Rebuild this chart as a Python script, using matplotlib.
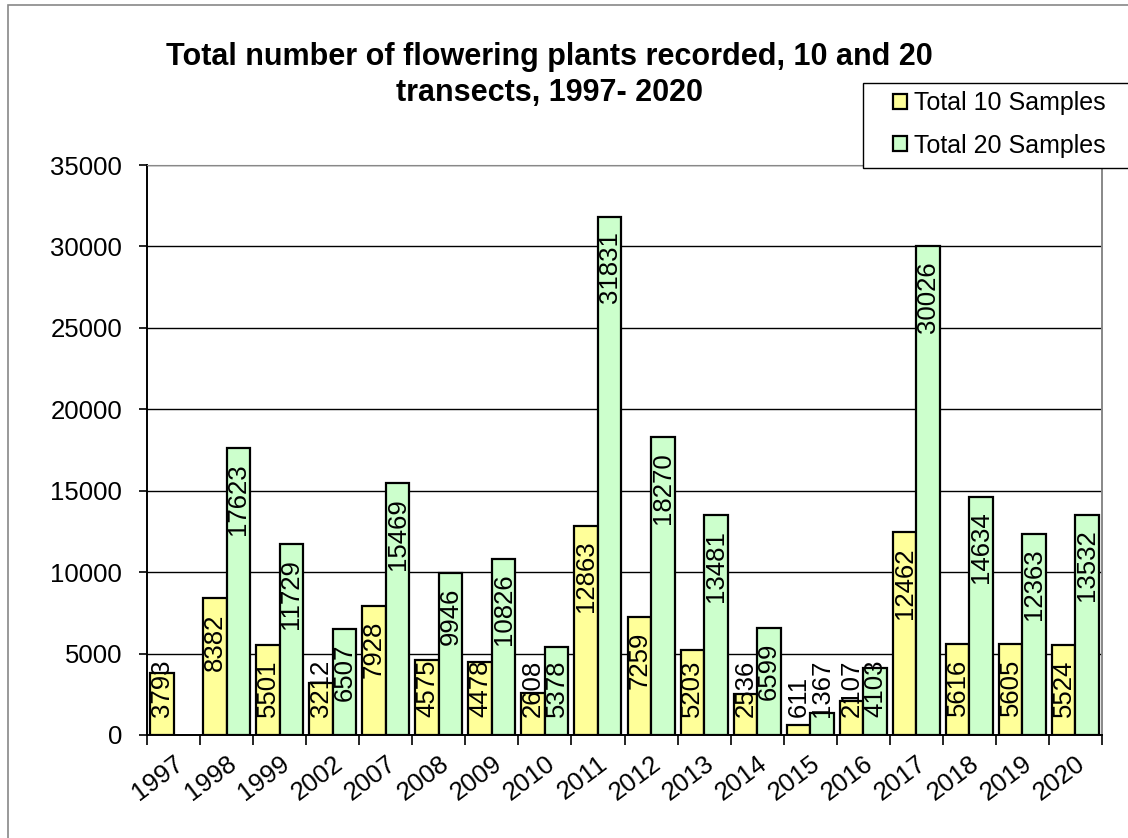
import numpy as np
import matplotlib.pyplot as plt
from matplotlib.patches import Rectangle

years = ['1997', '1998', '1999', '2002', '2007', '2008', '2009', '2010', '2011',
         '2012', '2013', '2014', '2015', '2016', '2017', '2018', '2019', '2020']
total10 = [3793, 8382, 5501, 3212, 7928, 4575, 4478, 2608, 12863,
           7259, 5203, 2536, 611, 2107, 12462, 5616, 5605, 5524]
total20 = [np.nan, 17623, 11729, 6507, 15469, 9946, 10826, 5378, 31831,
           18270, 13481, 6599, 1367, 4103, 30026, 14634, 12363, 13532]

plt.rcParams['font.family'] = ['Liberation Sans', 'DejaVu Sans']

W, H = 1128, 838
fig = plt.figure(figsize=(W / 100, H / 100), dpi=100, facecolor='w')
ax = fig.add_axes([147 / W, 1 - 735 / H, (1102 - 147) / W, (735 - 165) / H])

# outer chart frame
fig.patches.append(Rectangle((8 / W, -0.1), 1.2, 1 - 5 / H + 0.1, transform=fig.transFigure,
                             fill=False, edgecolor='#888888', lw=1.2))

x = np.arange(len(years))
w = 0.443
b1 = ax.bar(x - w / 2, total10, w, color='#FFFF99', edgecolor='black', lw=1.6,
            label='Total 10 Samples', zorder=3)
b2 = ax.bar(x + w / 2, total20, w, color='#CCFFCC', edgecolor='black', lw=1.6,
            label='Total 20 Samples', zorder=3)

ax.set_xlim(-0.5, len(years) - 0.5)
ax.set_ylim(0, 35000)
ax.set_yticks(range(0, 35001, 5000))
ax.tick_params(axis='y', labelsize=18.5, length=6, width=1.2, pad=12)
ax.set_xticks(x)
ax.set_xticklabels(years, rotation=37, ha='right', rotation_mode='anchor', fontsize=18.5)
ax.tick_params(axis='x', which='major', length=0, pad=12)
ax.set_xticks(np.arange(-0.5, len(years)), minor=True)
ax.tick_params(axis='x', which='minor', length=7, width=1.2)

ax.yaxis.grid(True, color='black', lw=1.0, zorder=0)
ax.spines['left'].set_linewidth(1.4)
ax.spines['bottom'].set_linewidth(1.4)
ax.spines['top'].set_color('#888888')
ax.spines['right'].set_color('#888888')
ax.spines['right'].set_linewidth(1.4)

# value labels rotated, inside the top of each bar; short bars keep label above the axis
fig.canvas.draw()
to_data = ax.transData.inverted()
pad_px = 15
floor_px = 18
labels = []
for xs, vals in ((x - w / 2, total10), (x + w / 2, total20)):
    for xi, v in zip(xs, vals):
        if np.isnan(v):
            continue
        top_px = ax.transData.transform((xi, v))[1] - pad_px
        y = to_data.transform((0, top_px))[1]
        t = ax.text(xi, y, f'{int(v)}', rotation=90, ha='center', va='top',
                    fontsize=18.5, zorder=4)
        labels.append(t)

fig.canvas.draw()
r = fig.canvas.get_renderer()
zero_px = ax.transData.transform((0, 0))[1]
for t in labels:
    bb = t.get_window_extent(r)
    if bb.y0 < zero_px + floor_px:
        t.set_va('bottom')
        t.set_y(to_data.transform((0, zero_px + floor_px))[1])

fig.text(549 / W, 1 - 75 / H, 'Total number of flowering plants recorded, 10 and 20\ntransects, 1997- 2020',
         ha='center', va='center', fontsize=22, fontweight='bold', linespacing=1.3)

# legend box runs off the right edge
fig.patches.append(Rectangle((863 / W, 1 - 168 / H), 0.4, 85 / H, transform=fig.transFigure,
                             facecolor='white', edgecolor='black', lw=1.0, zorder=5))
leg = fig.legend(handles=[b1, b2], loc='upper left', bbox_to_anchor=(893 / W, 1 - 91 / H),
                 fontsize=18, frameon=False, handlelength=0.55, handleheight=0.55,
                 handletextpad=0.3, borderpad=0, labelspacing=0.75, borderaxespad=0)
leg.set_zorder(6)

fig.savefig('out.png', dpi=100)
